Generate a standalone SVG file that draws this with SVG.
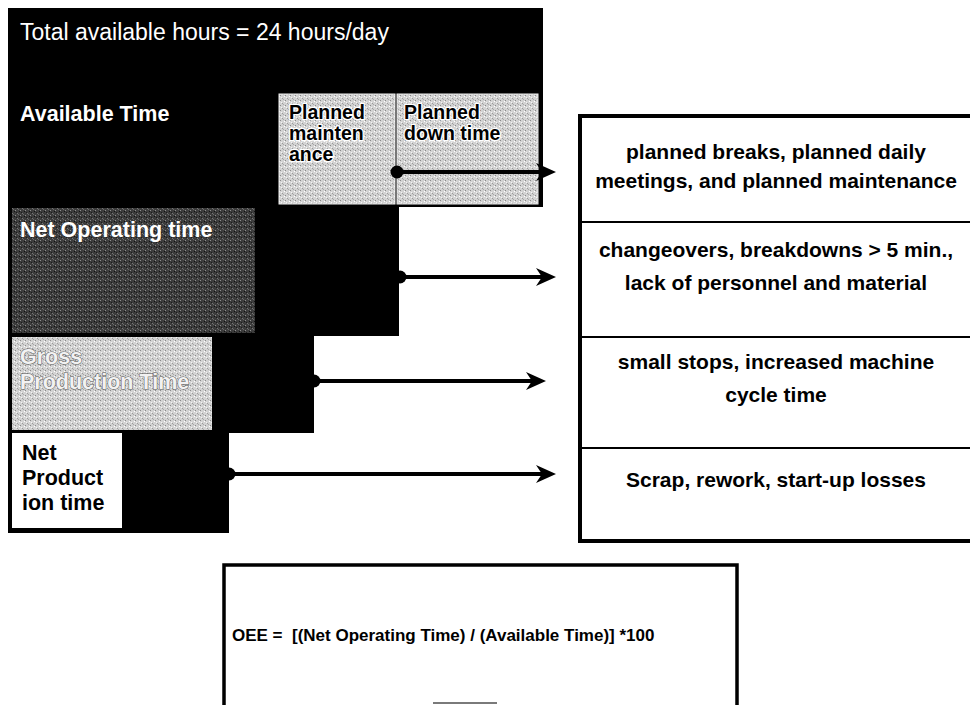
<svg xmlns="http://www.w3.org/2000/svg" width="970" height="705" viewBox="0 0 970 705">
<defs>
<style>
.bold{font-family:"Liberation Sans",Arial,sans-serif;font-weight:bold;font-size:21.5px}
.reg{font-family:"Liberation Sans",Arial,sans-serif;font-size:23px}
.wt{fill:#ffffff}
.pl{font-family:"Liberation Sans",Arial,sans-serif;font-weight:bold;font-size:19.5px;fill:#000;stroke:#ffffff;stroke-width:2.5px;paint-order:stroke;stroke-linejoin:round}
.ghost{fill:#f2f2f2;stroke:#5a5a5a;stroke-width:1px;paint-order:stroke}
.rt{font-family:"Liberation Sans",Arial,sans-serif;font-weight:bold;font-size:21px;fill:#000;text-anchor:middle}
.conn{stroke:#000;stroke-width:4;fill:none;marker-end:url(#arr)}
.div{stroke:#000;stroke-width:2}
</style>
<pattern id="lightHT" width="5" height="5" patternUnits="userSpaceOnUse">
<rect width="5" height="5" fill="#d2d2d2"/>
<rect x="0" y="0" width="1" height="1" fill="#8a8a8a"/>
<rect x="2" y="3" width="1" height="1" fill="#9a9a9a"/>
<rect x="4" y="1" width="1" height="1" fill="#ffffff"/>
<rect x="1" y="2" width="1" height="1" fill="#f4f4f4"/>
<rect x="3" y="4" width="1" height="1" fill="#a8a8a8"/>
</pattern>
<pattern id="darkHT" width="5" height="5" patternUnits="userSpaceOnUse">
<rect width="5" height="5" fill="#3c3c3c"/>
<rect x="0" y="0" width="1" height="1" fill="#8c8c8c"/>
<rect x="2" y="3" width="1" height="1" fill="#777"/>
<rect x="4" y="1" width="1" height="1" fill="#111"/>
<rect x="1" y="2" width="1" height="1" fill="#1a1a1a"/>
<rect x="3" y="4" width="1" height="1" fill="#6a6a6a"/>
</pattern>
<marker id="arr" viewBox="0 0 20 18" refX="11" refY="9" markerWidth="20" markerHeight="18" markerUnits="userSpaceOnUse" orient="auto">
<path d="M0,0 L20,9 L0,18 L6,9 z" fill="#000"/>
</marker>
</defs>
<rect width="970" height="705" fill="#ffffff"/>

<g id="available-time">
<polygon points="8,8 543,8 543,207 399,207 399,336 314,336 314,433 229,433 229,533 8,533" fill="#000"/>
<text class="reg wt" x="20" y="40">Total available hours = 24 hours/day</text>
<text class="bold wt" x="20" y="121">Available Time</text>
</g>

<g id="planned-maintenance">
<rect x="279" y="94" width="116" height="110" fill="url(#lightHT)" stroke="#f0f0f0" stroke-width="1"/>
<text class="pl" x="289" y="119">Planned</text>
<text class="pl" x="289" y="140">mainten</text>
<text class="pl" x="289" y="161">ance</text>
</g>

<g id="planned-down-time">
<rect x="397" y="94" width="141" height="110" fill="url(#lightHT)" stroke="#f0f0f0" stroke-width="1"/>
<text class="pl" x="404" y="119">Planned</text>
<text class="pl" x="404" y="140">down time</text>
</g>

<g id="net-operating-time">
<rect x="12" y="208" width="243" height="125" fill="url(#darkHT)"/>
<text class="bold wt" x="20" y="237">Net Operating time</text>
</g>

<g id="gross-production-time">
<rect x="12" y="337" width="200" height="93" fill="url(#lightHT)"/>
<text class="bold ghost" x="20" y="364">Gross</text>
<text class="bold ghost" x="20" y="389">Production Time</text>
</g>

<g id="net-production-time">
<rect x="12" y="433" width="110" height="95" fill="#ffffff"/>
<text class="bold" x="22" y="460" fill="#000">Net</text>
<text class="bold" x="22" y="485" fill="#000">Product</text>
<text class="bold" x="22" y="510" fill="#000">ion time</text>
</g>

<g id="losses">
<rect x="580" y="116" width="400" height="425" fill="#ffffff" stroke="#000" stroke-width="4"/>
<line class="div" x1="580" y1="222" x2="970" y2="222"/>
<line class="div" x1="580" y1="337" x2="970" y2="337"/>
<line class="div" x1="580" y1="448" x2="970" y2="448"/>
<text class="rt" x="776" y="159">planned breaks, planned daily</text>
<text class="rt" x="776" y="188">meetings, and planned maintenance</text>
<text class="rt" x="776" y="257">changeovers, breakdowns &gt; 5 min.,</text>
<text class="rt" x="776" y="290">lack of personnel and material</text>
<text class="rt" x="776" y="369">small stops, increased machine</text>
<text class="rt" x="776" y="402">cycle time</text>
<text class="rt" x="776" y="487">Scrap, rework, start-up losses</text>
</g>

<g id="oee-formula">
<rect x="224" y="565" width="513" height="160" fill="#ffffff" stroke="#000" stroke-width="3.5"/>
<text x="232" y="641" xml:space="preserve" font-family="Liberation Sans, Arial, sans-serif" font-weight="bold" font-size="17" fill="#000">OEE =  [(Net Operating Time) / (Available Time)] *100</text>
<line x1="433" y1="703" x2="497" y2="703" stroke="#7a7a7a" stroke-width="2"/>
</g>

<g id="connectors">
<circle cx="397" cy="172" r="6.5" fill="#000"/>
<line class="conn" x1="397" y1="172" x2="547" y2="172"/>
<circle cx="400" cy="277" r="6.5" fill="#000"/>
<line class="conn" x1="400" y1="277" x2="547" y2="277"/>
<circle cx="314" cy="381" r="6.5" fill="#000"/>
<line class="conn" x1="314" y1="381" x2="537" y2="381"/>
<circle cx="229" cy="474" r="6.5" fill="#000"/>
<line class="conn" x1="229" y1="474" x2="547" y2="474"/>
</g>
</svg>
